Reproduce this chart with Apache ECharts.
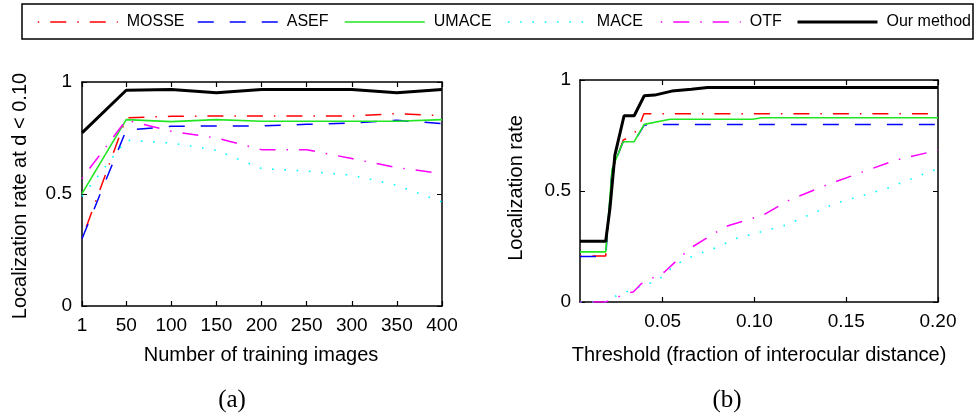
<!DOCTYPE html>
<html>
<head>
<meta charset="utf-8">
<script src="https://cdn.jsdelivr.net/npm/echarts@6/dist/echarts.min.js"></script>
<style>html,body{margin:0;padding:0;background:#fff}#c{width:976px;height:418px}</style>
</head>
<body>
<div id="c"></div>
<script>
// ---------- data ----------
const seriesNames = ['MOSSE', 'ASEF', 'UMACE', 'MACE', 'OTF', 'Our method'];

// (a) localization rate vs number of training images
const trainSizes = [1, 50, 100, 150, 200, 250, 300, 350, 400];
const trainTickLabels = [1, 50, 100, 150, 200, 250, 300, 350, 400];
const mosseA = [0.30, 0.840, 0.847, 0.848, 0.848, 0.848, 0.848, 0.859, 0.850];
const asefA  = [0.30, 0.785, 0.802, 0.804, 0.804, 0.811, 0.817, 0.829, 0.814];
const umaceA = [0.502, 0.832, 0.823, 0.832, 0.825, 0.825, 0.825, 0.825, 0.832];
const maceA  = [0.49, 0.740, 0.728, 0.695, 0.614, 0.602, 0.584, 0.539, 0.465];
const otfA   = [0.569, 0.830, 0.780, 0.750, 0.698, 0.698, 0.658, 0.618, 0.591];
const oursA  = [0.773, 0.963, 0.966, 0.952, 0.966, 0.966, 0.966, 0.952, 0.966];

// (b) localization rate vs threshold, [threshold, rate]
const thresholdTickLabels = [0.05, 0.10, 0.15, 0.20];
const mosseB = [[0.005,0.207],[0.019,0.207],[0.0225,0.586],[0.0285,0.729],[0.033,0.746],[0.0367,0.782],[0.0398,0.848],[0.2,0.848]];
const asefB  = [[0.005,0.205],[0.019,0.205],[0.0225,0.60],[0.0285,0.722],[0.0345,0.722],[0.040,0.797],[0.050,0.800],[0.2,0.800]];
const umaceB = [[0.005,0.226],[0.019,0.226],[0.0225,0.60],[0.0285,0.722],[0.0345,0.722],[0.040,0.800],[0.054,0.823],[0.099,0.823],[0.104,0.830],[0.2,0.830]];
const maceB  = [[0.005,0.0],[0.020,0.0],[0.025,0.030],[0.035,0.060],[0.0475,0.098],[0.0566,0.166],[0.0675,0.211],[0.0793,0.245],[0.090,0.286],[0.117,0.346],[0.144,0.444],[0.172,0.511],[0.195,0.586],[0.2,0.60]];
const otfB   = [[0.005,0.0],[0.019,0.0],[0.0312,0.042],[0.034,0.045],[0.0385,0.083],[0.051,0.135],[0.0648,0.241],[0.0838,0.338],[0.0865,0.346],[0.1046,0.391],[0.119,0.459],[0.139,0.526],[0.159,0.586],[0.177,0.639],[0.2,0.684]];
const oursB  = [[0.005,0.274],[0.019,0.274],[0.0213,0.421],[0.024,0.662],[0.029,0.839],[0.0345,0.839],[0.040,0.929],[0.0457,0.932],[0.055,0.950],[0.0657,0.958],[0.0745,0.966],[0.2,0.966]];

// ---------- styles ----------
const FONT = 'Liberation Sans, Arial, Helvetica, sans-serif';
const styles = [
  {color: '#ff0000', width: 1.5, type: [1.5, 11, 16, 11]},
  {color: '#0000ff', width: 1.5, type: [16, 16]},
  {color: '#22e622', width: 1.6, type: 'solid'},
  {color: '#00ffff', width: 1.6, type: [1.6, 10.7]},
  {color: '#ff00ff', width: 1.5, type: [1.5, 11, 16, 11]},
  {color: '#000000', width: 3, type: 'solid'}
];
const dataA = [mosseA, asefA, umaceA, maceA, otfA, oursA];
const dataB = [mosseB, asefB, umaceB, maceB, otfB, oursB];

function mkSeries(name, i, xIdx, yIdx, data) {
  const s = styles[i];
  return {
    name: name, type: 'line', xAxisIndex: xIdx, yAxisIndex: yIdx,
    data: data, symbol: 'none', silent: true, animation: false,
    color: s.color, z: 2 + i,
    lineStyle: {color: s.color, width: s.width, type: s.type}
  };
}

const series = [];
seriesNames.forEach((n, i) => {
  series.push(mkSeries(n, i, 0, 0, trainSizes.map((x, k) => [x, dataA[i][k]])));
});
seriesNames.forEach((n, i) => {
  series.push(mkSeries(n, i, 2, 2, dataB[i]));
});

const axLine = {show: true, onZero: false, lineStyle: {color: '#000', width: 1.5}};
const tickIn = (vals) => ({show: true, inside: true, length: 5, customValues: vals, lineStyle: {color: '#000', width: 1.2}});
const lbl = {color: '#000', fontFamily: FONT, fontSize: 19};

const xAxis = [
  {gridIndex: 0, type: 'value', min: 1, max: 400, position: 'bottom',
   axisLine: axLine, axisTick: tickIn(trainTickLabels),
   axisLabel: Object.assign({margin: 10, customValues: trainTickLabels}, lbl), splitLine: {show: false}},
  {gridIndex: 0, type: 'value', min: 1, max: 400, position: 'top',
   axisLine: axLine, axisTick: tickIn(trainTickLabels), axisLabel: {show: false}, splitLine: {show: false}},
  {gridIndex: 1, type: 'value', min: 0.005, max: 0.2, position: 'bottom',
   axisLine: axLine, axisTick: tickIn(thresholdTickLabels),
   axisLabel: Object.assign({margin: 10, customValues: thresholdTickLabels, formatter: v => v.toFixed(2)}, lbl), splitLine: {show: false}},
  {gridIndex: 1, type: 'value', min: 0.005, max: 0.2, position: 'top',
   axisLine: axLine, axisTick: tickIn(thresholdTickLabels), axisLabel: {show: false}, splitLine: {show: false}}
];
const yAxis = [
  {gridIndex: 0, type: 'value', min: 0, max: 1, interval: 0.5, position: 'left',
   axisLine: axLine, axisTick: {show: true, inside: true, length: 5, lineStyle: {color: '#000'}},
   axisLabel: Object.assign({margin: 10}, lbl), splitLine: {show: false}},
  {gridIndex: 0, type: 'value', min: 0, max: 1, interval: 0.5, position: 'right',
   axisLine: axLine, axisTick: {show: true, inside: true, length: 5, lineStyle: {color: '#000'}},
   axisLabel: {show: false}, splitLine: {show: false}},
  {gridIndex: 1, type: 'value', min: 0, max: 1, interval: 0.5, position: 'left',
   axisLine: axLine, axisTick: {show: true, inside: true, length: 5, lineStyle: {color: '#000'}},
   axisLabel: Object.assign({margin: 9}, lbl), splitLine: {show: false}},
  {gridIndex: 1, type: 'value', min: 0, max: 1, interval: 0.5, position: 'right',
   axisLine: axLine, axisTick: {show: true, inside: true, length: 5, lineStyle: {color: '#000'}},
   axisLabel: {show: false}, splitLine: {show: false}}
];

const legendLefts = [37, 197, 344, 507, 660, 796];
const legend = seriesNames.map((n, i) => ({
  data: [n], left: legendLefts[i], top: 14, padding: 0,
  itemWidth: 80, itemHeight: 16, selectedMode: false,
  itemStyle: {opacity: 0, borderWidth: 0},
  lineStyle: {width: styles[i].width, type: styles[i].type, color: styles[i].color},
  textStyle: {color: '#000', fontFamily: FONT, fontSize: 16, lineHeight: 16, padding: [0, 0, 0, 4]}
}));

const txt = (text, x, y, size, rot, family) => ({
  type: 'text', x: x, y: y, rotation: rot || 0, silent: true,
  style: {text: text, fill: '#000', font: size + 'px ' + (family || FONT), align: 'center', verticalAlign: 'middle'}
});

const option = {
  animation: false,
  backgroundColor: '#fff',
  grid: [
    {left: 82, top: 82, width: 360, height: 224},
    {left: 580, top: 80, width: 358, height: 222}
  ],
  xAxis: xAxis,
  yAxis: yAxis,
  legend: legend,
  series: series,
  graphic: [
    {type: 'rect', shape: {x: 22, y: 4, width: 951, height: 35}, silent: true,
     style: {fill: 'none', stroke: '#000', lineWidth: 1.5}, z: -1},
    txt('Localization rate at d < 0.10', 20, 196, 20, Math.PI / 2),
    txt('Localization rate', 516, 188, 20, Math.PI / 2),
    txt('Number of training images', 261, 355, 20),
    txt('Threshold (fraction of interocular distance)', 759, 355, 20),
    txt('(a)', 232, 400, 25, 0, 'Liberation Serif, DejaVu Serif, serif'),
    txt('(b)', 727, 400, 25, 0, 'Liberation Serif, DejaVu Serif, serif')
  ]
};

const chart = echarts.init(document.getElementById('c'), null, {renderer: 'canvas'});
chart.setOption(option);
</script>
</body>
</html>
